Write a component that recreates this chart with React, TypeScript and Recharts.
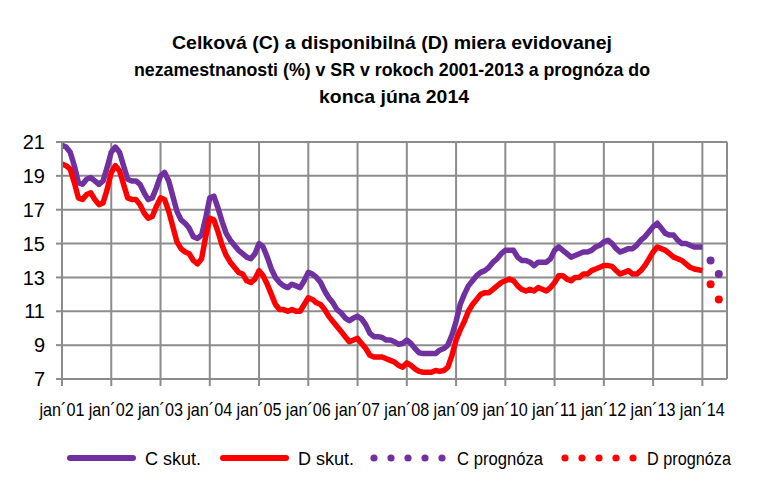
import { LineChart, Line, XAxis, YAxis, CartesianGrid } from 'recharts';

const TICK_LABELS = [
  'jan´01', 'jan´02', 'jan´03', 'jan´04', 'jan´05', 'jan´06', 'jan´07',
  'jan´08', 'jan´09', 'jan´10', 'jan´11', 'jan´12', 'jan´13', 'jan´14',
];
const Y_TICKS = [7, 9, 11, 13, 15, 17, 19, 21];

// monthly values, jan 2001 .. jan 2014 (one row per year)
const C_ACTUAL = [
  20.8, 20.7, 20.4, 19.6, 18.6, 18.5, 18.8, 18.9, 18.7, 18.5, 18.7, 19.5,
  20.4, 20.7, 20.4, 19.6, 18.8, 18.7, 18.7, 18.5, 18.0, 17.6, 17.7, 18.3,
  19.0, 19.2, 18.7, 17.8, 16.9, 16.4, 16.2, 15.9, 15.4, 15.3, 15.5, 16.5,
  17.7, 17.8, 17.1, 16.3, 15.6, 15.2, 14.9, 14.6, 14.4, 14.2, 14.1, 14.4,
  15.0, 14.8, 14.2, 13.5, 13.0, 12.7, 12.5, 12.4, 12.6, 12.5, 12.4, 12.8,
  13.3, 13.2, 13.0, 12.7, 12.2, 11.8, 11.5, 11.1, 10.9, 10.6, 10.45, 10.6,
  10.7, 10.55, 10.2, 9.7, 9.5, 9.5, 9.45, 9.3, 9.3, 9.2, 9.05, 9.1,
  9.3, 9.1, 8.8, 8.55, 8.5, 8.5, 8.5, 8.5, 8.7, 8.8, 9.0, 9.6,
  10.4, 11.4, 12.0, 12.5, 12.8, 13.1, 13.3, 13.4, 13.6, 13.9, 14.1, 14.4,
  14.6, 14.6, 14.6, 14.2, 14.0, 14.0, 13.9, 13.7, 13.9, 13.9, 13.9, 14.1,
  14.6, 14.8, 14.6, 14.4, 14.2, 14.3, 14.4, 14.5, 14.5, 14.6, 14.8, 14.9,
  15.1, 15.2, 15.0, 14.7, 14.5, 14.6, 14.7, 14.7, 14.9, 15.2, 15.4, 15.7,
  16.0, 16.2, 15.9, 15.6, 15.5, 15.5, 15.2, 15.0, 15.0, 14.9, 14.8, 14.8,
  14.8,
];

const D_ACTUAL = [
  19.7, 19.6, 19.4, 18.6, 17.7, 17.6, 17.9, 18.0, 17.6, 17.3, 17.4, 18.2,
  19.2, 19.6, 19.3, 18.5, 17.7, 17.6, 17.6, 17.3, 16.8, 16.5, 16.6, 17.2,
  17.7, 17.6, 16.9, 16.0, 15.1, 14.7, 14.5, 14.4, 14.0, 13.8, 14.1, 15.4,
  16.5, 16.4, 15.7, 14.9, 14.3, 13.9, 13.6, 13.3, 13.2, 12.8, 12.7, 12.9,
  13.4, 13.1, 12.6, 12.0, 11.4, 11.1, 11.1, 11.0, 11.1, 11.0, 11.0, 11.4,
  11.8, 11.7, 11.5, 11.4, 11.1, 10.7, 10.4, 10.1, 9.8, 9.5, 9.2, 9.3,
  9.4, 9.1, 8.8, 8.4, 8.3, 8.3, 8.3, 8.2, 8.1, 8.0, 7.8, 7.7,
  7.95, 7.8, 7.6, 7.45, 7.4, 7.4, 7.4, 7.5, 7.45, 7.5, 7.7, 8.4,
  9.3, 9.9, 10.4, 11.0, 11.4, 11.7, 12.0, 12.1, 12.1, 12.3, 12.5, 12.7,
  12.8, 12.9, 12.8, 12.5, 12.3, 12.2, 12.3, 12.2, 12.4, 12.3, 12.2, 12.4,
  12.7, 13.1, 13.1, 12.9, 12.8, 13.0, 13.0, 13.2, 13.2, 13.4, 13.5, 13.6,
  13.7, 13.7, 13.65, 13.4, 13.2, 13.3, 13.4, 13.2, 13.2, 13.4, 13.7, 14.1,
  14.5, 14.8, 14.7, 14.6, 14.4, 14.2, 14.1, 14.0, 13.8, 13.6, 13.5, 13.45,
  13.4,
];

// forecast points (months counted from jan 2001)
const FORECAST_MONTHS = [158, 160];
const C_FORECAST = [14.0, 13.2];
const D_FORECAST = [12.6, 11.7];

const PURPLE = '#7030A0';
const RED = '#FF0000';
const GRID = '#8c8c8c';
const FONT = "'Liberation Sans', Arial, sans-serif";

const actualRows = C_ACTUAL.map((c, i) => ({ m: i, c, d: D_ACTUAL[i] }));
const cForecastRows = FORECAST_MONTHS.map((m, i) => ({ m, c: C_FORECAST[i] }));
const dForecastRows = FORECAST_MONTHS.map((m, i) => ({ m, d: D_FORECAST[i] }));
const xTicks = TICK_LABELS.map((_, i) => i * 12);

const dotC = (p: any) => <circle key={p.index} cx={p.cx} cy={p.cy} r={4} fill={PURPLE} />;
const dotD = (p: any) => <circle key={p.index} cx={p.cx} cy={p.cy} r={4} fill={RED} />;

const XTick = ({ x, y, payload }: any) => (
  <text x={x} y={y} dy="0.71em" textAnchor="middle" fontSize={19} fontFamily={FONT} fill="#000"
    textLength={45} lengthAdjust="spacingAndGlyphs">
    {TICK_LABELS[payload.value / 12]}
  </text>
);

const legendDots = (x0: number, color: string) =>
  [0, 1, 2, 3, 4].map((i) => <circle key={i} cx={x0 + i * 17} cy={458} r={3.6} fill={color} />);

export default function App() {
  return (
    <div style={{ position: 'relative', width: 767, height: 484, margin: -8, background: '#fff' }}>
      <div style={{ position: 'absolute', left: 0, top: 0 }}>
        <LineChart width={767} height={484} data={actualRows} margin={{ top: 142, right: 40, bottom: 75, left: 12 }}>
          <CartesianGrid stroke={GRID} strokeWidth={2} />
          <XAxis
            type="number"
            dataKey="m"
            domain={[0, 162]}
            ticks={xTicks}
            interval={0}
            height={30}
            tickSize={7}
            tickMargin={17}
            axisLine={{ stroke: GRID, strokeWidth: 2 }}
            tickLine={{ stroke: GRID, strokeWidth: 2 }}
            tick={<XTick />}
          />
          <YAxis
            type="number"
            domain={[7, 21]}
            ticks={Y_TICKS}
            interval={0}
            width={50}
            tickSize={6}
            tickMargin={11}
            axisLine={{ stroke: GRID, strokeWidth: 2 }}
            tickLine={{ stroke: GRID, strokeWidth: 2 }}
            tick={{ fill: '#000', fontSize: 20, fontFamily: FONT }}
          />
          <Line dataKey="c" stroke={PURPLE} strokeWidth={5.5} dot={false} isAnimationActive={false} strokeLinejoin="round" />
          <Line dataKey="d" stroke={RED} strokeWidth={5.5} dot={false} isAnimationActive={false} strokeLinejoin="round" />
          <Line data={cForecastRows} dataKey="c" stroke="none" dot={dotC} isAnimationActive={false} />
          <Line data={dForecastRows} dataKey="d" stroke="none" dot={dotD} isAnimationActive={false} />
        </LineChart>
      </div>
      <svg width={767} height={484} style={{ position: 'absolute', left: 0, top: 0, pointerEvents: 'none' }}>
        <rect x={6.5} y={0.5} width={759} height={482} rx={4} fill="none" stroke={GRID} strokeWidth={1.5} />
        <g fontFamily={FONT} fontWeight="bold" fontSize={19} textAnchor="middle" fill="#000" style={{ whiteSpace: 'pre' }}>
          <text x={392} y={49} textLength={440} lengthAdjust="spacingAndGlyphs">Celková (C)  a disponibilná (D) miera evidovanej</text>
          <text x={392} y={76} textLength={516} lengthAdjust="spacingAndGlyphs">nezamestnanosti  (%) v SR v rokoch  2001-2013   a prognóza do</text>
          <text x={394} y={103} textLength={150} lengthAdjust="spacingAndGlyphs">konca júna 2014</text>
        </g>
        <g fontFamily={FONT} fontSize={19} fill="#000">
          <line x1={70} y1={458} x2={133} y2={458} stroke={PURPLE} strokeWidth={6} strokeLinecap="round" />
          <text x={145} y={465} textLength={56} lengthAdjust="spacingAndGlyphs">C skut.</text>
          <line x1={223} y1={458} x2={286} y2={458} stroke={RED} strokeWidth={6} strokeLinecap="round" />
          <text x={298} y={465} textLength={56} lengthAdjust="spacingAndGlyphs">D skut.</text>
          {legendDots(374, PURPLE)}
          <text x={457} y={465} textLength={86} lengthAdjust="spacingAndGlyphs">C prognóza</text>
          {legendDots(565, RED)}
          <text x={647} y={465} textLength={84} lengthAdjust="spacingAndGlyphs">D prognóza</text>
        </g>
      </svg>
    </div>
  );
}
